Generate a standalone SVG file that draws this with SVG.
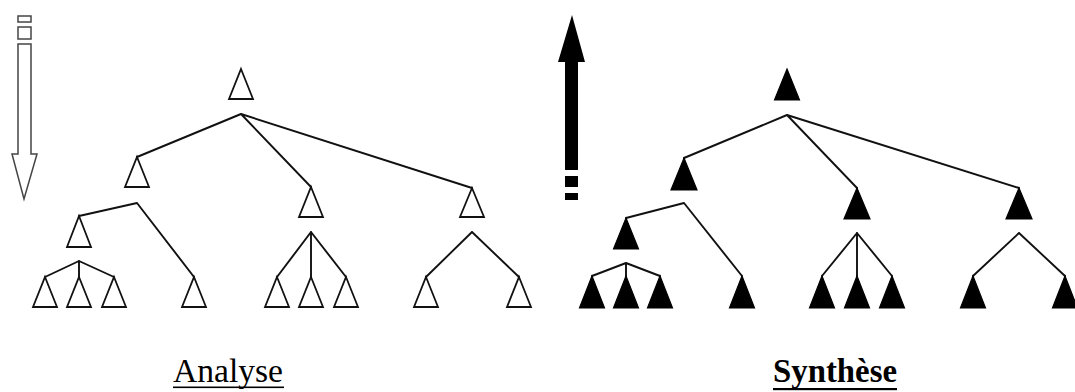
<svg xmlns="http://www.w3.org/2000/svg" width="1075" height="392" viewBox="0 0 1075 392">
<style>
.ow{fill:#fff;stroke:#111;stroke-width:1.8;stroke-linejoin:miter}
.fb{fill:#000;stroke:#000;stroke-width:1.2;stroke-linejoin:miter}
.ln{stroke:#111;stroke-width:1.9;fill:none;stroke-linecap:round}
.lbl{font-family:"Liberation Serif","Times New Roman",serif;font-size:34px;fill:#000}
</style>
<rect width="1075" height="392" fill="#fff"/>
<g id="arrow-down" fill="#fff" stroke="#444" stroke-width="1.5">
<rect x="18" y="16" width="13" height="6"/>
<rect x="18" y="27" width="13" height="12"/>
<polygon points="18,44 31,44 31,154 37,154 24,199 12,154 18,154"/>
</g>
<g id="arrow-up" fill="#000">
<polygon points="572,15 585,62 578,62 578,170 565,170 565,62 558,62"/>
<rect x="565" y="176" width="13" height="11"/>
<rect x="565" y="193" width="13" height="7"/>
</g>
<g id="connectors">
<path class="ln" d="M241,114 L137,157 M241,114 L311,187 M241,114 L472,188"/>
<path class="ln" d="M137,203 L79,216 M137,203 L194,277"/>
<path class="ln" d="M79,261 L45,277 M79,261 L79,277 M79,261 L114,277"/>
<path class="ln" d="M311,232 L277,277 M311,232 L311,277 M311,232 L346,277"/>
<path class="ln" d="M472,232 L426,277 M472,232 L519,277"/>
<path class="ln" d="M787,115 L684,158 M787,115 L857,188 M787,115 L1019,188"/>
<path class="ln" d="M684,203 L626,218 M684,203 L742,276"/>
<path class="ln" d="M626,263 L592,276 M626,263 L626,276 M626,263 L660,276"/>
<path class="ln" d="M857,233 L822,276 M857,233 L857,276 M857,233 L892,276"/>
<path class="ln" d="M1019,233 L973,276 M1019,233 L1065,276"/>
</g>
<g id="analyse-root"><polygon class="ow" points="241,69 253,99 229,99"/></g>
<g id="analyse-n1"><polygon class="ow" points="137,157 149,187 125,187"/></g>
<g id="analyse-n2"><polygon class="ow" points="311,187 323,217 299,217"/></g>
<g id="analyse-n3"><polygon class="ow" points="472,188 484,217 460,217"/></g>
<g id="analyse-n4"><polygon class="ow" points="79,216 91,247 67,247"/></g>
<g id="analyse-l1"><polygon class="ow" points="45,277 57,307 33,307"/></g>
<g id="analyse-l2"><polygon class="ow" points="79,277 91,307 67,307"/></g>
<g id="analyse-l3"><polygon class="ow" points="114,277 126,307 102,307"/></g>
<g id="analyse-l4"><polygon class="ow" points="194,277 206,307 182,307"/></g>
<g id="analyse-l5"><polygon class="ow" points="277,277 289,307 265,307"/></g>
<g id="analyse-l6"><polygon class="ow" points="311,277 323,307 299,307"/></g>
<g id="analyse-l7"><polygon class="ow" points="346,277 358,307 334,307"/></g>
<g id="analyse-l8"><polygon class="ow" points="426,277 438,307 414,307"/></g>
<g id="analyse-l9"><polygon class="ow" points="519,277 531,307 507,307"/></g>
<g id="synthese-root"><polygon class="fb" points="787,69 799.5,100 774.5,100"/></g>
<g id="synthese-n1"><polygon class="fb" points="684,158 697,190 671,190"/></g>
<g id="synthese-n2"><polygon class="fb" points="857,188 870,219 844,219"/></g>
<g id="synthese-n3"><polygon class="fb" points="1019,188 1032,219 1006,219"/></g>
<g id="synthese-n4"><polygon class="fb" points="626,218 638.5,249 613.5,249"/></g>
<g id="synthese-l1"><polygon class="fb" points="592,276 604.5,308 579.5,308"/></g>
<g id="synthese-l2"><polygon class="fb" points="626,276 638.5,308 613.5,308"/></g>
<g id="synthese-l3"><polygon class="fb" points="660,276 672.5,308 647.5,308"/></g>
<g id="synthese-l4"><polygon class="fb" points="742,276 754.5,308 729.5,308"/></g>
<g id="synthese-l5"><polygon class="fb" points="822,276 834.5,308 809.5,308"/></g>
<g id="synthese-l6"><polygon class="fb" points="857,276 869.5,308 844.5,308"/></g>
<g id="synthese-l7"><polygon class="fb" points="892,276 904.5,308 879.5,308"/></g>
<g id="synthese-l8"><polygon class="fb" points="973,276 985.5,308 960.5,308"/></g>
<g id="synthese-l9"><polygon class="fb" points="1065,276 1077.5,308 1052.5,308"/></g>
<g id="label-analyse">
<text class="lbl" x="173" y="382" textLength="110" lengthAdjust="spacingAndGlyphs">Analyse</text>
<rect x="173" y="386.5" width="111" height="1.6" fill="#000"/>
</g>
<g id="label-synthese">
<text class="lbl" x="773" y="382" font-weight="bold" textLength="124" lengthAdjust="spacingAndGlyphs">Synthèse</text>
<rect x="773" y="388" width="124" height="2.2" fill="#000"/>
</g>
</svg>
